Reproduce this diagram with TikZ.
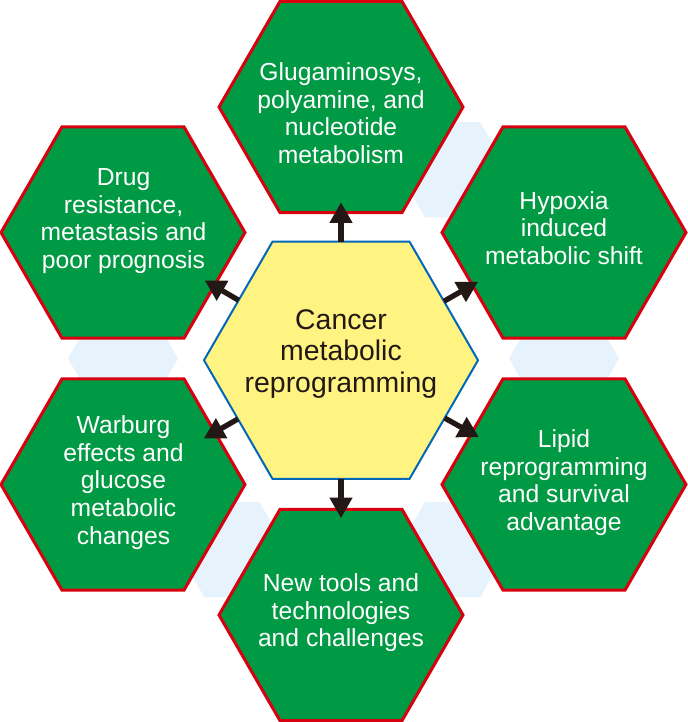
\documentclass[tikz,border=0pt]{standalone}
\usepackage{fontspec}
\setmainfont{Liberation Sans}
\usetikzlibrary{shapes.geometric,arrows.meta,calc}
\definecolor{hgreen}{RGB}{0,153,68}
\definecolor{hred}{RGB}{215,0,15}
\definecolor{cyellow}{RGB}{255,243,130}
\definecolor{cblue}{RGB}{0,104,183}
\definecolor{lblue}{RGB}{230,242,252}
\definecolor{arrowc}{RGB}{35,24,21}
\tikzset{
  hexo/.style={regular polygon, regular polygon sides=6, minimum size=183pt, inner sep=0pt, outer sep=0pt, fill=hgreen, draw=hred, line width=2.25pt},
  hexc/.style={regular polygon, regular polygon sides=6, minimum size=205.5pt, inner sep=0pt, outer sep=0pt, fill=cyellow, draw=cblue, line width=1.5pt},
  hexb/.style={regular polygon, regular polygon sides=6, minimum size=82.5pt, inner sep=0pt, outer sep=0pt, fill=lblue, draw=none},
  lbl/.style={text=white, align=center, inner sep=0pt, font=\fontsize{18.5}{20.7}\selectfont},
  clbl/.style={text=arrowc, align=center, inner sep=0pt, font=\fontsize{21.3}{23.9}\selectfont},
  arr/.style={-{Triangle[length=15.5pt,width=16.3pt]}, line width=4pt, draw=arrowc}
}
\begin{document}
\begin{tikzpicture}[x=0.75pt,y=-0.75pt]
\useasboundingbox (0,0) rectangle (687,722);
% light blue background hexagons
\node[hexb] (b1) at (452.5,169.75) {};
\node[hexb] (b2) at (564,358.5) {};
\node[hexb] (b3) at (452.5,549.75) {};
\node[hexb] (b4) at (232,549.75) {};
\node[hexb] (b5) at (123,358.5) {};
% outer hexagons
\node[hexo] (T) at (341,107) {};
\node[hexo] (UL) at (123,232.5) {};
\node[hexo] (UR) at (564,232.5) {};
\node[hexo] (LL) at (123,484.5) {};
\node[hexo] (LR) at (564,484.5) {};
\node[hexo] (B) at (341,615) {};
% centre hexagon
\node[hexc] (C) at (341,360.25) {};
% labels
\node[lbl] (tT) at (341,113) {Glugaminosys,\\polyamine, and\\nucleotide\\metabolism};
\node[lbl] (tUL) at (123.5,221) {Drug\\resistance,\\metastasis and\\poor prognosis};
\node[lbl] (tUR) at (564,228) {Hypoxia\\induced\\metabolic shift};
\node[lbl] (tLL) at (123.5,482.5) {Warburg\\effects and\\glucose\\metabolic\\changes};
\node[lbl] (tLR) at (564,482.5) {Lipid\\reprogramming\\and survival\\advantage};
\node[lbl] (tB) at (341,613) {New tools and\\technologies\\and challenges};
\node[clbl] (tC) at (341,354) {Cancer\\metabolic\\reprogramming};
% arrows
\foreach \t in {T,UL,UR,LL,LR,B}{
  \draw[arr] ($(C)!89pt!(\t)$) -- ($(C)!118.5pt!(\t)$);
}
\end{tikzpicture}
\end{document}
